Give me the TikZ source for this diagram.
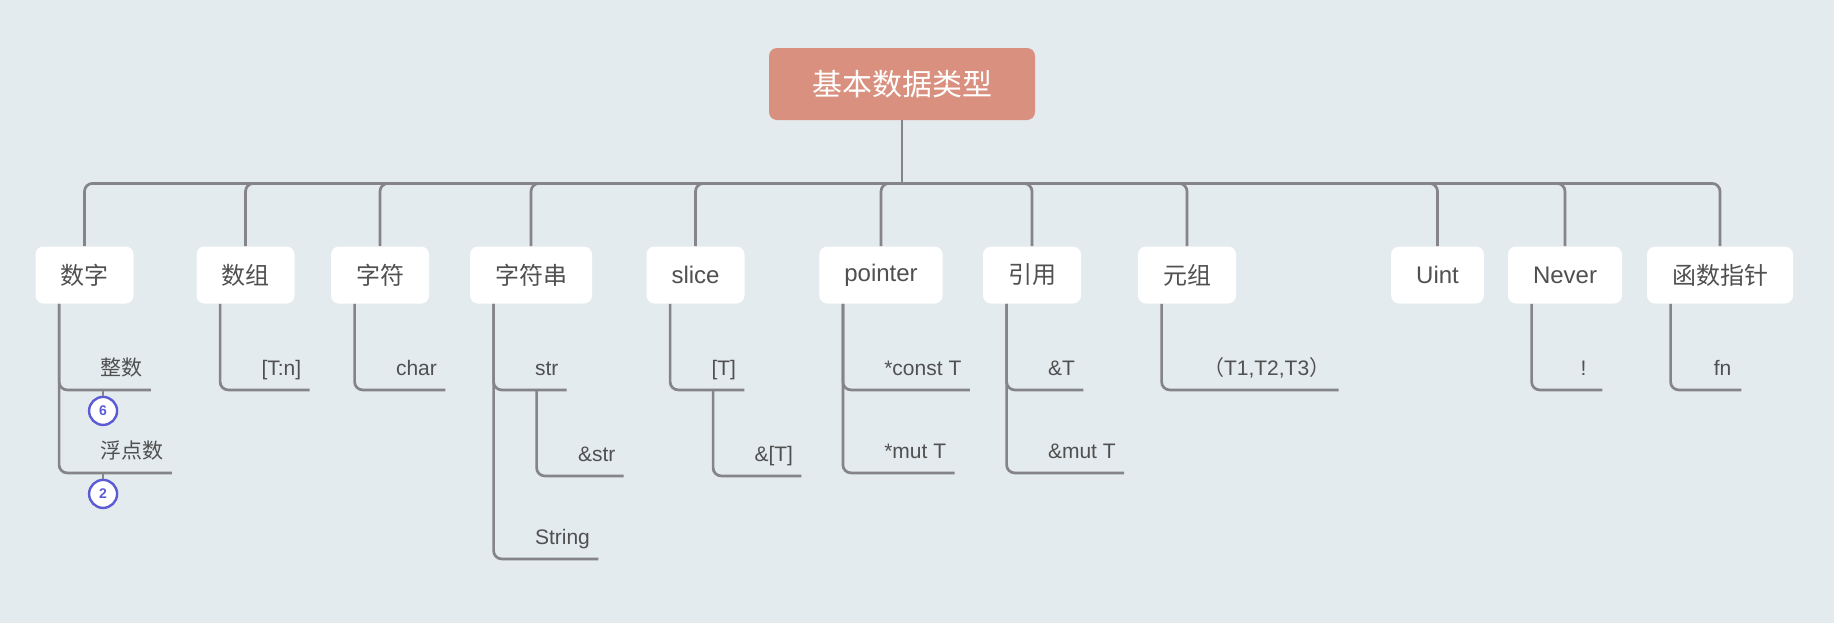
\documentclass[tikz,border=0pt]{standalone}
\usepackage{fontspec}
\setmainfont{Liberation Sans}
\newfontfamily\cjk{Noto Sans CJK SC}
\usepackage{xcolor}
\usetikzlibrary{positioning}
\definecolor{bgblue}{HTML}{E3EBEF}
\definecolor{rootred}{HTML}{D9907F}
\definecolor{linegray}{HTML}{848489}
\definecolor{textgray}{HTML}{505050}
\definecolor{badgeblue}{HTML}{5B5BD6}

\begin{document}
\begin{tikzpicture}[
    x=0.5pt, y=-0.5pt,
    root/.style={rectangle, rounded corners=4pt, fill=rootred, text=white, minimum width=133pt, minimum height=36pt, font=\cjk\fontsize{15}{18}\selectfont},
    cat/.style={rectangle, rounded corners=4pt, fill=white, text=textgray, inner xsep=12.5pt, minimum height=28.5pt, font=\fontsize{12}{14}\selectfont},
    leaf/.style={anchor=south west, inner xsep=4pt, inner ysep=0pt, text height=8pt, text depth=7pt, minimum width=18.5pt, text=textgray, font=\fontsize{10.5}{12}\selectfont},
    badge/.style={circle, draw=badgeblue, line width=1.2pt, fill=white, text=badgeblue, inner sep=0pt, minimum size=14pt, font=\bfseries\fontsize{7}{8}\selectfont},
    link/.style={draw=linegray, line width=1.35pt, rounded corners=4pt}
]
\useasboundingbox (0,0) rectangle (1834,622);
\fill[bgblue] (-4,-4) rectangle (1838,626);

\node[root] (root) at (902,84) {基本数据类型};
\coordinate[below=31.5pt of root] (hub);

\node[cat] (num) at (84.5,275) {\cjk 数字};
\node[cat] (arr) at (245.5,275) {\cjk 数组};
\node[cat] (chr) at (380,275) {\cjk 字符};
\node[cat] (strg) at (531,275) {\cjk 字符串};
\node[cat] (slc) at (695.5,275) {slice};
\node[cat] (ptr) at (881,275) {pointer};
\node[cat] (ref) at (1032,275) {\cjk 引用};
\node[cat] (tup) at (1187,275) {\cjk 元组};
\node[cat] (uint) at (1437.5,275) {Uint};
\node[cat] (nev) at (1565,275) {Never};
\node[cat] (fnp) at (1720,275) {\cjk 函数指针};

\node[leaf] (int) at ([shift={(28.5pt,-43pt)}]num.south west) {\cjk 整数};
\node[leaf] (flt) at ([shift={(28.5pt,-84.5pt)}]num.south west) {\cjk 浮点数};
\node[badge] (six) at ([shift={(5.5pt,-10.5pt)}]int.south west) {6};
\node[badge] (two) at ([shift={(5.5pt,-10.5pt)}]flt.south west) {2};
\node[leaf] (tn) at ([shift={(28.5pt,-43pt)}]arr.south west) {[T:n]};
\node[leaf] (ch) at ([shift={(28.5pt,-43pt)}]chr.south west) {char};
\node[leaf] (s) at ([shift={(28.5pt,-43pt)}]strg.south west) {str};
\node[leaf] (rs) at ([shift={(21.5pt,-43pt)}]s.south west) {\&str};
\node[leaf] (owned) at ([shift={(28.5pt,-127.5pt)}]strg.south west) {String};
\node[leaf] (sl) at ([shift={(28.5pt,-43pt)}]slc.south west) {[T]};
\node[leaf] (rsl) at ([shift={(21.5pt,-43pt)}]sl.south west) {\&[T]};
\node[leaf] (cptr) at ([shift={(28.5pt,-43pt)}]ptr.south west) {*const T};
\node[leaf] (mptr) at ([shift={(28.5pt,-84.5pt)}]ptr.south west) {*mut T};
\node[leaf] (sref) at ([shift={(28.5pt,-43pt)}]ref.south west) {\&T};
\node[leaf] (mref) at ([shift={(28.5pt,-84.5pt)}]ref.south west) {\&mut T};
\node[leaf] (tt) at ([shift={(28.5pt,-43pt)}]tup.south west) {{\cjk （}T1,T2,T3{\cjk ）}};
\node[leaf] (bang) at ([shift={(28.5pt,-43pt)}]nev.south west) {!};
\node[leaf] (fn) at ([shift={(28.5pt,-43pt)}]fnp.south west) {fn};

\draw[link] (root) -- (hub);
\draw[link] (hub) -| (num);
\draw[link] (hub) -| (arr);
\draw[link] (hub) -| (chr);
\draw[link] (hub) -| (strg);
\draw[link] (hub) -| (slc);
\draw[link] (hub) -| (ptr);
\draw[link] (hub) -| (ref);
\draw[link] (hub) -| (tup);
\draw[link] (hub) -| (uint);
\draw[link] (hub) -| (nev);
\draw[link] (hub) -| (fnp);

\draw[link] ([xshift=12pt]num.south west) |- (int.south east);
\draw[link] ([xshift=12pt]num.south west) |- (flt.south east);
\draw[link] (six) -- (six |- int.south);
\draw[link] (two) -- (two |- flt.south);
\draw[link] ([xshift=12pt]arr.south west) |- (tn.south east);
\draw[link] ([xshift=12pt]chr.south west) |- (ch.south east);
\draw[link] ([xshift=12pt]strg.south west) |- (s.south east);
\draw[link] ([xshift=5pt]s.south west) |- (rs.south east);
\draw[link] ([xshift=12pt]strg.south west) |- (owned.south east);
\draw[link] ([xshift=12pt]slc.south west) |- (sl.south east);
\draw[link] ([xshift=5pt]sl.south west) |- (rsl.south east);
\draw[link] ([xshift=12pt]ptr.south west) |- (cptr.south east);
\draw[link] ([xshift=12pt]ptr.south west) |- (mptr.south east);
\draw[link] ([xshift=12pt]ref.south west) |- (sref.south east);
\draw[link] ([xshift=12pt]ref.south west) |- (mref.south east);
\draw[link] ([xshift=12pt]tup.south west) |- (tt.south east);
\draw[link] ([xshift=12pt]nev.south west) |- (bang.south east);
\draw[link] ([xshift=12pt]fnp.south west) |- (fn.south east);
\end{tikzpicture}
\end{document}
